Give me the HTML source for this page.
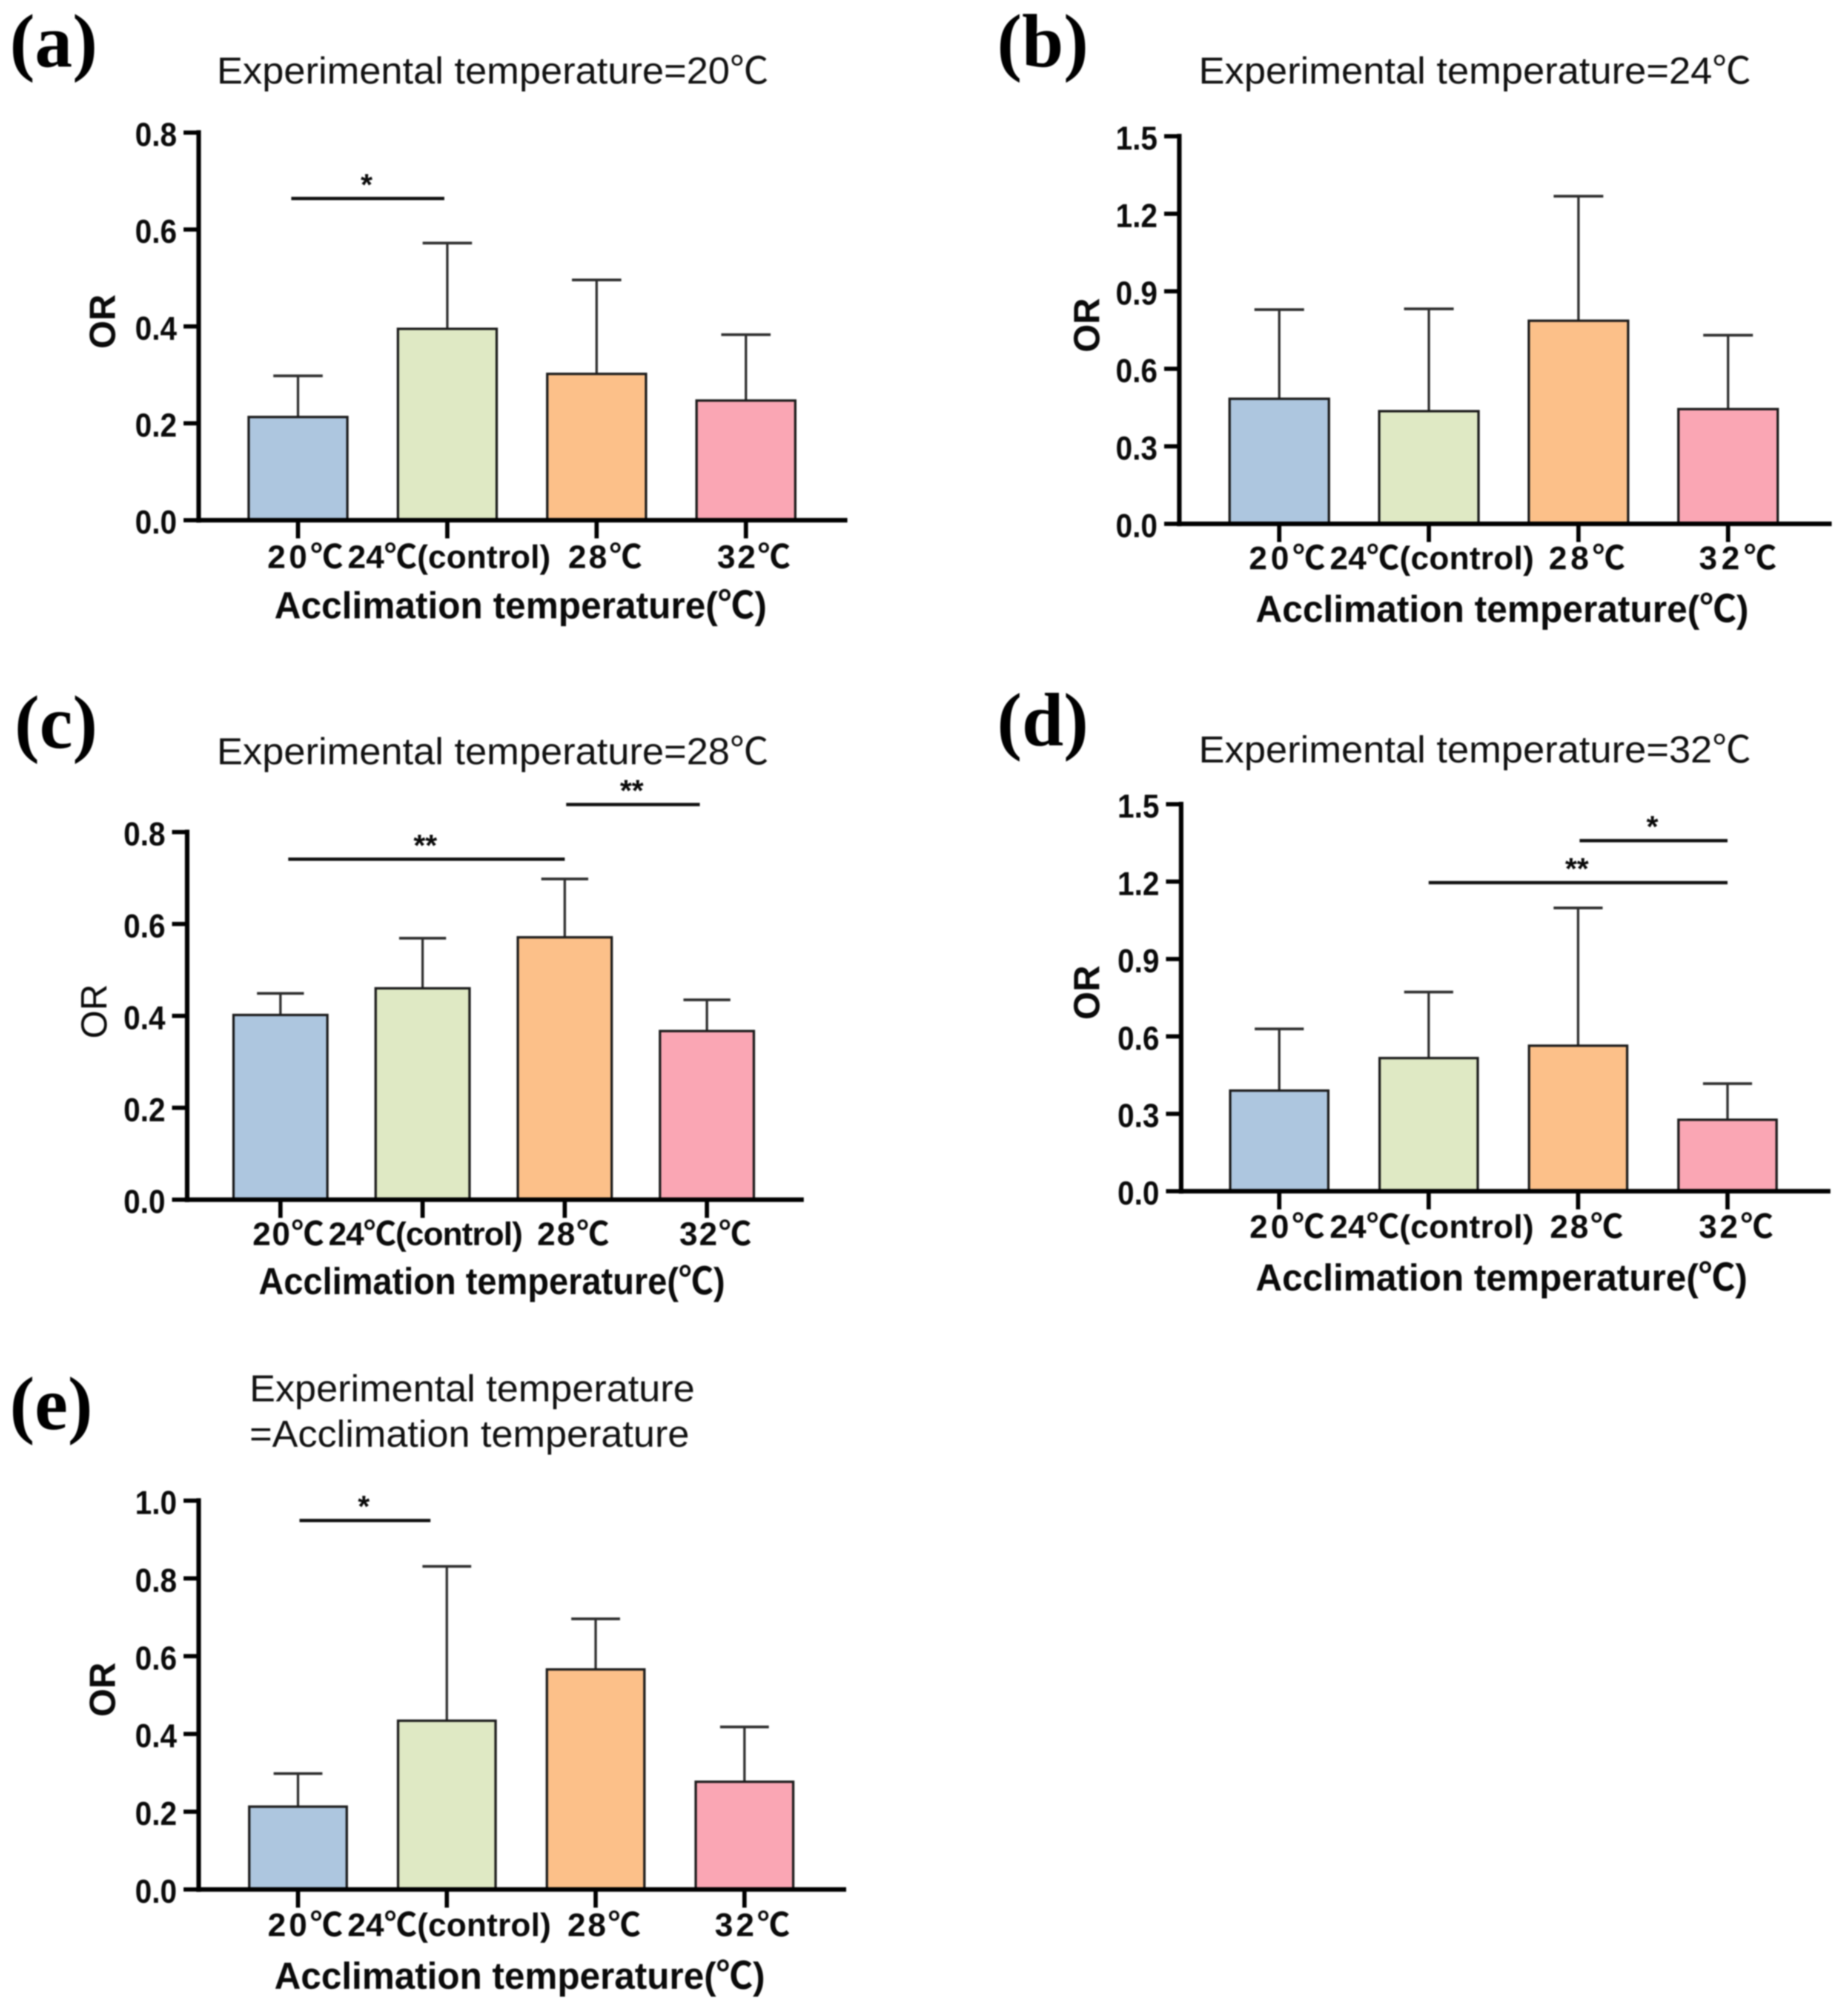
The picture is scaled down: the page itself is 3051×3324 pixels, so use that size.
<!DOCTYPE html>
<html lang="en">
<head>
<meta charset="utf-8">
<title>Odds ratio by acclimation temperature</title>
<style>
html,body{margin:0;padding:0;background:#fff;}
#figure{display:block;width:3051px;height:3324px;filter:blur(1.1px);}
text{fill:#0a0a0a;font-family:"Liberation Sans","Noto Sans CJK SC",sans-serif;}
.panel-label{font-family:"Liberation Serif","Noto Serif CJK SC",serif;font-weight:bold;font-size:125px;fill:#000;}
.title{font-size:62px;fill:#111;}
.xtitle{font-size:62px;font-weight:bold;}
.ortitle{font-size:60px;font-weight:bold;}
</style>
</head>
<body>
<svg id="figure" xmlns="http://www.w3.org/2000/svg" width="3051" height="3324" viewBox="0 0 3051 3324">
<rect x="0" y="0" width="3051" height="3324" fill="#fff"/>

<text class="panel-label" x="16" y="110" textLength="145" lengthAdjust="spacingAndGlyphs">(a)</text>
<text class="panel-label" x="1646" y="110" textLength="151" lengthAdjust="spacingAndGlyphs">(b)</text>
<text class="panel-label" x="24" y="1235" textLength="137" lengthAdjust="spacingAndGlyphs">(c)</text>
<text class="panel-label" x="1646" y="1231" textLength="151" lengthAdjust="spacingAndGlyphs">(d)</text>
<text class="panel-label" x="16" y="2360" textLength="137" lengthAdjust="spacingAndGlyphs">(e)</text>

<text class="title" x="358" y="138" textLength="911" lengthAdjust="spacingAndGlyphs">Experimental temperature=20℃</text>
<text class="title" x="1979" y="138" textLength="912" lengthAdjust="spacingAndGlyphs">Experimental temperature=24℃</text>
<text class="title" x="358" y="1262" textLength="911" lengthAdjust="spacingAndGlyphs">Experimental temperature=28℃</text>
<text class="title" x="1979" y="1259" textLength="912" lengthAdjust="spacingAndGlyphs">Experimental temperature=32℃</text>
<text class="title" x="412" y="2314" textLength="735" lengthAdjust="spacingAndGlyphs">Experimental temperature</text>
<text class="title" x="412" y="2389" textLength="726" lengthAdjust="spacingAndGlyphs">=Acclimation temperature</text>

<text class="xtitle" x="453" y="1021" textLength="813" lengthAdjust="spacingAndGlyphs">Acclimation temperature(℃)</text>
<text class="xtitle" x="2073" y="1027" textLength="814" lengthAdjust="spacingAndGlyphs">Acclimation temperature(℃)</text>
<text class="xtitle" x="427" y="2137" textLength="770" lengthAdjust="spacingAndGlyphs">Acclimation temperature(℃)</text>
<text class="xtitle" x="2073" y="2131" textLength="812" lengthAdjust="spacingAndGlyphs">Acclimation temperature(℃)</text>
<text class="xtitle" x="453" y="3284" textLength="810" lengthAdjust="spacingAndGlyphs">Acclimation temperature(℃)</text>

<text class="ortitle" text-anchor="middle" transform="translate(190 531) rotate(-90)">OR</text>
<text class="ortitle" text-anchor="middle" transform="translate(1815 537) rotate(-90)">OR</text>
<text class="ortitle" text-anchor="middle" style="font-weight:normal" transform="translate(176 1670) rotate(-90)">OR</text>
<text class="ortitle" text-anchor="middle" transform="translate(1815 1639) rotate(-90)">OR</text>
<text class="ortitle" text-anchor="middle" transform="translate(190 2790) rotate(-90)">OR</text>

<g id="marks"></g>
</svg>

<script>
// ---- data ----
const categories = ["20℃", "24℃(control)", "28℃", "32℃"];

const ticksSmall = ["0.0", "0.2", "0.4", "0.6", "0.8"];
const ticksWide = ["0.0", "0.3", "0.6", "0.9", "1.2", "1.5"];
const ticksUnit = ["0.0", "0.2", "0.4", "0.6", "0.8", "1.0"];

const meansA = [0.213, 0.395, 0.302, 0.247];
const upperA = [0.298, 0.572, 0.496, 0.383];
const meansB = [0.484, 0.436, 0.786, 0.444];
const upperB = [0.829, 0.832, 1.268, 0.730];
const meansC = [0.402, 0.460, 0.571, 0.367];
const upperC = [0.449, 0.569, 0.698, 0.435];
const meansD = [0.390, 0.516, 0.564, 0.277];
const upperD = [0.629, 0.772, 1.098, 0.417];
const meansE = [0.213, 0.434, 0.566, 0.277];
const upperE = [0.298, 0.831, 0.696, 0.418];

const sigLevelsA = [0.664];
const sigFromA = [-0.045];
const sigToA = [0.98];
const sigTextA = ["*"];
const sigLevelsC = [0.741, 0.860];
const sigFromC = [0.055, 2.01];
const sigToC = [2.0, 2.95];
const sigTextC = ["**", "**"];
const sigLevelsD = [1.196, 1.359];
const sigFromD = [1.0, 2.01];
const sigToD = [3.0, 3.0];
const sigTextD = ["**", "*"];
const sigLevelsE = [0.949];
const sigFromE = [0.01];
const sigToE = [0.89];
const sigTextE = ["*"];

// ---- styling and layout ----
const barFills = ["#adc6df", "#dfe9c4", "#fcc089", "#faa6b4"];
const SVGNS = "http://www.w3.org/2000/svg";
const root = document.getElementById("marks");

function makeLine(parent, x1, y1, x2, y2, stroke, width) {
  const el = document.createElementNS(SVGNS, "line");
  el.setAttribute("x1", x1);
  el.setAttribute("y1", y1);
  el.setAttribute("x2", x2);
  el.setAttribute("y2", y2);
  el.setAttribute("stroke", stroke);
  el.setAttribute("stroke-width", width);
  parent.appendChild(el);
  return el;
}

function makeText(parent, x, y, str, size, weight, anchor) {
  const el = document.createElementNS(SVGNS, "text");
  el.setAttribute("x", x);
  el.setAttribute("y", y);
  el.setAttribute("font-size", size);
  el.setAttribute("font-weight", weight);
  el.setAttribute("text-anchor", anchor);
  el.textContent = str;
  parent.appendChild(el);
  return el;
}

function drawPanel(cfg, means, upper, ticks, sigLevels, sigFrom, sigTo, sigText) {
  const yMax = parseFloat(ticks[ticks.length - 1]);
  const yScale = function (v) { return cfg.y0 - (v / yMax) * (cfg.y0 - cfg.yTop); };
  const xScale = function (i) { return cfg.x0 + i * cfg.step; };

  const g = document.createElementNS(SVGNS, "g");
  
  
  root.appendChild(g);

  // error bars sit behind the bars
  means.forEach(function (m, i) {
    const stem = makeLine(g, xScale(i), yScale(m), xScale(i), yScale(upper[i]), "#2e2e2e", 4);
    
    
    const cap = makeLine(g, xScale(i) - cfg.barW / 4, yScale(upper[i]), xScale(i) + cfg.barW / 4, yScale(upper[i]), "#2e2e2e", 4.5);
    
    
  });

  // bars
  means.forEach(function (m, i) {
    const bar = document.createElementNS(SVGNS, "rect");
    bar.setAttribute("x", xScale(i) - cfg.barW / 2);
    bar.setAttribute("y", yScale(m));
    bar.setAttribute("width", cfg.barW);
    bar.setAttribute("height", cfg.y0 - yScale(m));
    bar.setAttribute("fill", barFills[i]);
    bar.setAttribute("stroke", "#1c1c1c");
    bar.setAttribute("stroke-width", 4);
    
    
    g.appendChild(bar);
  });

  // y axis
  const yAxis = makeLine(g, cfg.axisX, cfg.yTop - 4, cfg.axisX, cfg.y0 + 4, "#000", 7.5);
  
  
  ticks.forEach(function (t) {
    const v = parseFloat(t);
    const tick = makeLine(g, cfg.axisX - 25, yScale(v), cfg.axisX, yScale(v), "#000", 7);
    
    
    const label = makeText(g, cfg.axisX - 36, yScale(v) + 22, t, 55, "bold", "end");
    label.setAttribute("textLength", 69);
    label.setAttribute("lengthAdjust", "spacingAndGlyphs");
    
    
  });

  // x axis
  const xAxis = makeLine(g, cfg.axisX - 4, cfg.y0, cfg.xEnd, cfg.y0, "#000", 7.5);
  
  
  categories.forEach(function (c, i) {
    const tick = makeLine(g, xScale(i), cfg.y0, xScale(i), cfg.y0 + 30, "#000", 7);
    
    
    const label = makeText(g, xScale(i) + cfg.labelDx[i], cfg.labelY, c, 54, "bold", "middle");
    label.setAttribute("textLength", cfg.labelW[i]);
    label.setAttribute("lengthAdjust", "spacing");
    
    
  });

  // significance annotations
  sigLevels.forEach(function (lvl, i) {
    const a = xScale(sigFrom[i]);
    const b = xScale(sigTo[i]);
    const line = makeLine(g, a, yScale(lvl), b, yScale(lvl), "#111", 5.5);
    
    
    const star = makeText(g, (a + b) / 2 - 2, yScale(lvl) - 6, sigText[i], 50, "bold", "middle");
    
    
  });
}

const layoutA = {id:"a", axisX:328, x0:492, step:246.5, barW:163, y0:859, yTop:219, xEnd:1399, labelY:938, labelDx:[12,3,14,13], labelW:[125,335,122,121]};
const layoutB = {id:"b", axisX:1947, x0:2112, step:247, barW:164, y0:865, yTop:225, xEnd:3024, labelY:940, labelDx:[13,5,14,16], labelW:[126,337,126,128]};
const layoutC = {id:"c", axisX:309, x0:463, step:234.7, barW:155, y0:1981, yTop:1374, xEnd:1327, labelY:2056, labelDx:[13,5,14,14], labelW:[118,321,119,119]};
const layoutD = {id:"d", axisX:1950, x0:2112, step:246.7, barW:162, y0:1967, yTop:1328, xEnd:3022, labelY:2044, labelDx:[13,5,14,14], labelW:[124,337,121,123]};
const layoutE = {id:"e", axisX:328, x0:492, step:245.7, barW:161, y0:3120, yTop:2478, xEnd:1397, labelY:3197, labelDx:[12,4,14,13], labelW:[124,336,121,124]};

drawPanel(layoutA, meansA, upperA, ticksSmall, sigLevelsA, sigFromA, sigToA, sigTextA);
drawPanel(layoutB, meansB, upperB, ticksWide, [], [], [], []);
drawPanel(layoutC, meansC, upperC, ticksSmall, sigLevelsC, sigFromC, sigToC, sigTextC);
drawPanel(layoutD, meansD, upperD, ticksWide, sigLevelsD, sigFromD, sigToD, sigTextD);
drawPanel(layoutE, meansE, upperE, ticksUnit, sigLevelsE, sigFromE, sigToE, sigTextE);
</script>
</body>
</html>
